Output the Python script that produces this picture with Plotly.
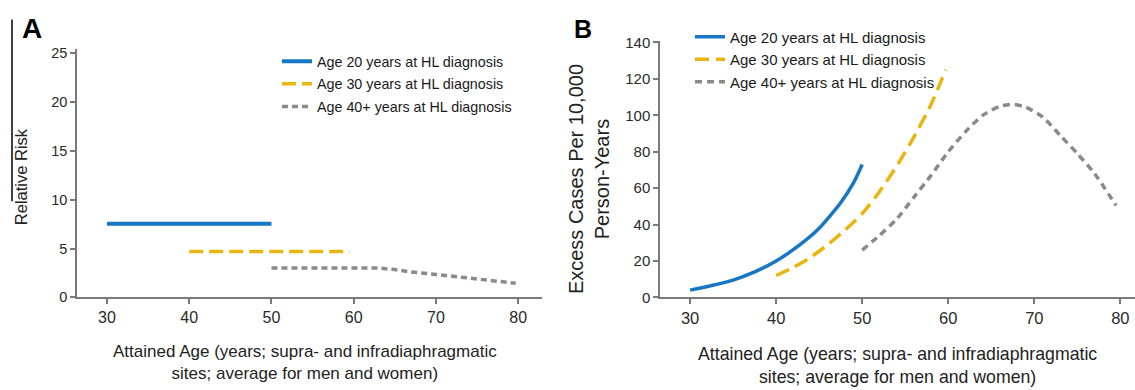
import plotly.graph_objects as go

# ---- Data ----
legend_names = ["Age 20 years at HL diagnosis",
                "Age 30 years at HL diagnosis",
                "Age 40+ years at HL diagnosis"]

# Panel A: relative risk
ages_a_20 = [30, 50]
rr_a_20 = [7.55, 7.55]
ages_a_30 = [40, 59.5]
rr_a_30 = [4.7, 4.7]
ages_a_40 = [50, 63, 65, 67, 70, 74, 79.7]
rr_a_40 = [3.0, 3.0, 2.85, 2.6, 2.35, 2.0, 1.45]

# Panel B: excess cases per 10,000 person-years
ages_b_20 = [30, 32.5, 35, 37.5, 40, 42.5, 45, 47.5, 49, 50]
exc_b_20 = [4, 6.5, 9.5, 14, 20, 28, 38, 52, 63, 73]
ages_b_30 = [40, 42, 44, 46, 48, 50, 52, 54, 56, 58, 59.7]
exc_b_30 = [12, 16.5, 22, 29, 37, 46, 58, 72, 88, 106, 125]
ages_b_40 = [50, 52, 54, 56, 58, 60, 62, 64, 66, 67.5, 69, 71, 73, 75, 77, 79.5]
exc_b_40 = [26, 34, 43, 55, 67, 80, 91, 100, 105, 106, 104.5, 99, 89, 79, 68, 50.5]

x_ticks = [30, 40, 50, 60, 70, 80]
a_y_ticks = [0, 5, 10, 15, 20, 25]
b_y_ticks = [0, 20, 40, 60, 80, 100, 120, 140]

x_title = "Attained Age (years; supra- and infradiaphragmatic<br>sites; average for men and women)"

BLUE = "#1877c4"
GOLD = "#e9b510"
GRAY = "#8a8a8a"
AXC = "#7a7a7a"
FONT = "Liberation Sans, Arial, sans-serif"

W, H = 1135, 390

fig = go.Figure()

def add(x, y, color, width, dash, name, xa, ya, leg, grp, spline=True):
    fig.add_trace(go.Scatter(
        x=x, y=y, mode="lines", name=name,
        line=dict(color=color, width=width, dash=dash,
                  shape="spline" if spline else "linear", smoothing=0.6),
        xaxis=xa, yaxis=ya, legend=leg, legendgroup=grp,
        hoverinfo="x+y"))

add(ages_a_20, rr_a_20, BLUE, 4, "solid", legend_names[0], "x", "y", "legend", "a1", False)
add(ages_a_30, rr_a_30, GOLD, 3.5, "14px,6px", legend_names[1], "x", "y", "legend", "a2", False)
add(ages_a_40, rr_a_40, GRAY, 3.5, "6px,4px", legend_names[2], "x", "y", "legend", "a3", False)

add(ages_b_20, exc_b_20, BLUE, 3.5, "solid", legend_names[0], "x2", "y2", "legend2", "b1")
add(ages_b_30, exc_b_30, GOLD, 3.5, "14px,7px", legend_names[1], "x2", "y2", "legend2", "b2")
add(ages_b_40, exc_b_40, GRAY, 3.5, "7px,5px", legend_names[2], "x2", "y2", "legend2", "b3")

axis_common = dict(showline=True, linecolor=AXC, linewidth=1.5, ticks="outside",
                   ticklen=5, tickwidth=1.5, tickcolor=AXC, showgrid=False,
                   zeroline=False, fixedrange=True)

fig.update_layout(
    width=W, height=H,
    margin=dict(l=0, r=0, t=0, b=0),
    paper_bgcolor="white", plot_bgcolor="white",
    font=dict(family=FONT, color="#222"),
    xaxis=dict(domain=[77 / W, 542 / W], range=[26.35, 82.9], tickvals=x_ticks,
               anchor="y", tickfont=dict(size=16, color="#2a2a2a"), **axis_common),
    yaxis=dict(domain=[1 - 302 / H, 1 - 44 / H], range=[0, 25.4], tickvals=a_y_ticks,
               anchor="x", tickfont=dict(size=14.5, color="#2a2a2a"), **axis_common),
    xaxis2=dict(domain=[660 / W, 1.0], range=[26.5, 81.7], tickvals=x_ticks,
                anchor="y2", tickfont=dict(size=16.5, color="#2a2a2a"), **axis_common),
    yaxis2=dict(domain=[1 - 302 / H, 1 - 35 / H], range=[0, 141], tickvals=b_y_ticks,
                anchor="x2", tickfont=dict(size=15, color="#2a2a2a"), **axis_common),
    legend=dict(x=277 / W, y=1 - 40 / H, xanchor="left", yanchor="top",
                font=dict(size=14.3, color="#1a1a1a"), bgcolor="rgba(0,0,0,0)",
                traceorder="grouped", tracegroupgap=1),
    legend2=dict(x=690 / W, y=1 - 14 / H, xanchor="left", yanchor="top",
                 font=dict(size=15, color="#1a1a1a"), bgcolor="rgba(0,0,0,0)",
                 traceorder="grouped", tracegroupgap=0),
    showlegend=True,
)

annotations = [
    dict(text="<b>A</b>", x=32 / W, y=1 - 22 / H, font=dict(size=28, color="black")),
    dict(text="<b>B</b>", x=583 / W, y=1 - 23 / H, font=dict(size=25, color="black")),
    dict(text="Relative Risk", x=21 / W, y=1 - 177 / H, textangle=-90,
         font=dict(size=16.5, color="#222")),
    dict(text="Excess Cases Per 10,000<br>Person-Years",
         x=589 / W, y=1 - 179 / H, textangle=-90, font=dict(size=20, color="#222")),
    dict(text=x_title, x=305 / W, y=1 - 369.5 / H, font=dict(size=17, color="#222")),
    dict(text=x_title, x=897 / W, y=1 - 372.5 / H, font=dict(size=17.7, color="#222")),
]
for a in annotations:
    a.update(xref="paper", yref="paper", showarrow=False, xanchor="center", yanchor="middle")
fig.update_layout(annotations=annotations)

fig.add_shape(type="line", xref="paper", yref="paper",
              x0=12 / W, x1=12 / W, y0=1 - 13 / H, y1=1 - 202 / H,
              line=dict(color="black", width=1.5))

fig.write_html("out.html", config={"displayModeBar": False},
               post_script="document.body.style.margin='0';document.body.style.overflow='hidden';")
